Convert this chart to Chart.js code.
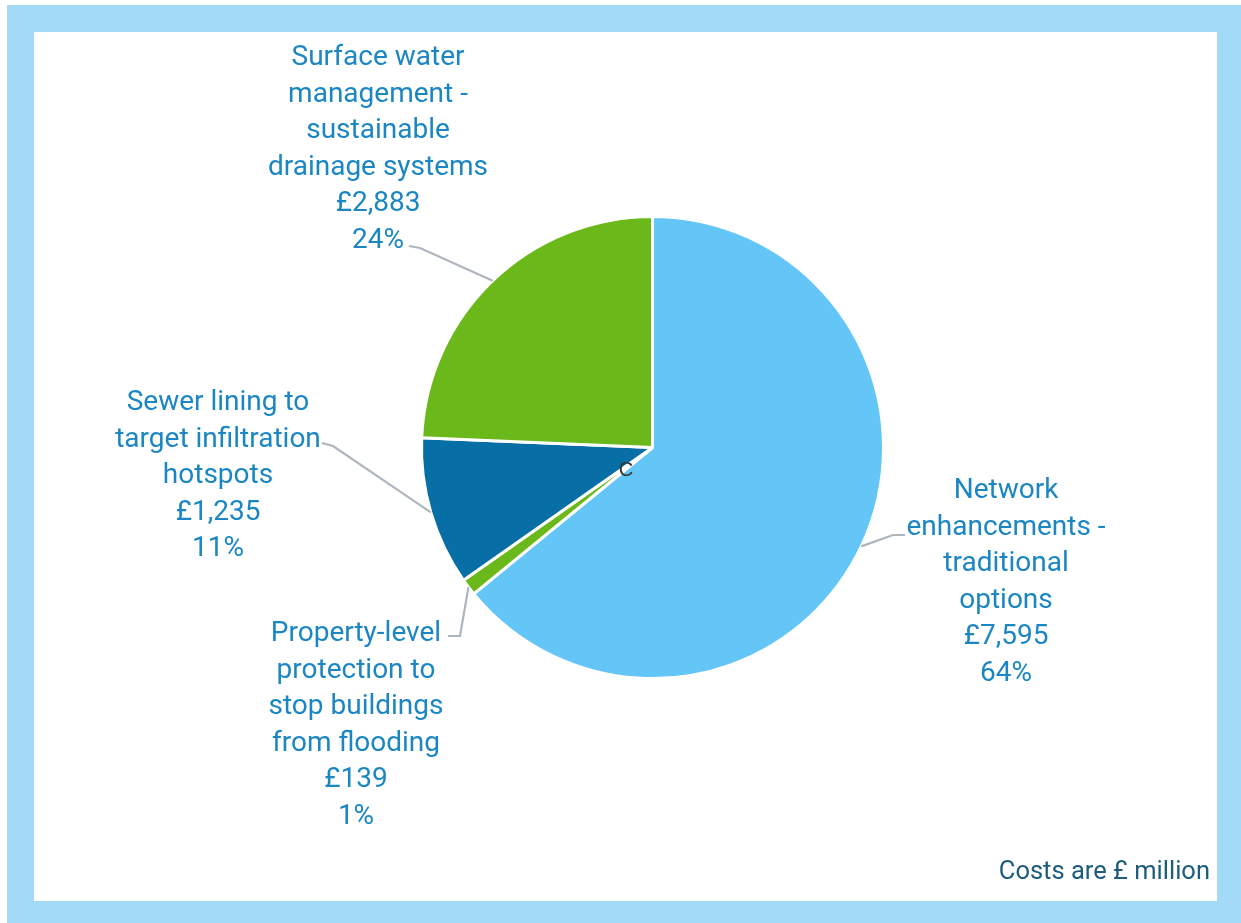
<!DOCTYPE html>
<html lang="en">
<head>
    <meta charset="UTF-8">
    <title>Costs by option</title>
    <style>
        body {
            margin: 0;
            background: #fff;
            width: 1241px;
            height: 923px;
            overflow: hidden;
        }
        .frame {
            position: absolute;
            left: 7px;
            top: 5px;
            width: 1234px;
            height: 918px;
            background: #a3daf7;
        }
        .chart-box {
            position: absolute;
            left: 34px;
            top: 32px;
            width: 1183px;
            height: 869px;
            background: #fff;
        }
    </style>
</head>
<body>
    <div class="frame"></div>
    <div class="chart-box">
        <canvas id="costChart" width="1183" height="869"></canvas>
    </div>

    <script src="https://cdn.jsdelivr.net/npm/chart.js@4/dist/chart.umd.min.js"></script>
    <script>
        // Cost per option, £ million
        const categories = [
            'Network enhancements - traditional options',
            'Property-level protection to stop buildings from flooding',
            'Sewer lining to target infiltration hotspots',
            'Surface water management - sustainable drainage systems'
        ];
        const costs = [7595, 139, 1235, 2883];
        const percents = ['64%', '1%', '11%', '24%'];
        const sliceColours = ['#64c5f7', '#6ab81a', '#086ea6', '#6ab81a'];

        // How each label is broken into lines
        const labelLines = [
            ['Network', 'enhancements -', 'traditional', 'options'],
            ['Property-level', 'protection to', 'stop buildings', 'from flooding'],
            ['Sewer lining to', 'target infiltration', 'hotspots'],
            ['Surface water', 'management -', 'sustainable', 'drainage systems']
        ];

        // label block centre (x, first line y) and leader elbow/end, canvas coords
        const labelLayout = [
            { x: 972, y: 459, elbow: [859, 503], end: [871, 503] },
            { x: 322, y: 602, elbow: [426, 604], end: [414, 604] },
            { x: 184, y: 371, elbow: [299, 414], end: [288, 411] },
            { x: 344, y: 26, elbow: [386, 216], end: [375, 214] }
        ];
        const lineHeight = 36.5;

        const pieLabels = {
            id: 'pieLabels',
            afterDatasetsDraw(chart) {
                const ctx = chart.ctx;
                const arcs = chart.getDatasetMeta(0).data;
                ctx.save();
                arcs.forEach((arc, i) => {
                    const p = arc.getProps(['x', 'y', 'startAngle', 'endAngle', 'outerRadius'], true);
                    const mid = (p.startAngle + p.endAngle) / 2;
                    const sx = p.x + Math.cos(mid) * p.outerRadius;
                    const sy = p.y + Math.sin(mid) * p.outerRadius;
                    const lay = labelLayout[i];

                    // leader line
                    ctx.strokeStyle = '#adb6bf';
                    ctx.lineWidth = 2.2;
                    ctx.beginPath();
                    ctx.moveTo(sx, sy);
                    ctx.lineTo(lay.elbow[0], lay.elbow[1]);
                    ctx.lineTo(lay.end[0], lay.end[1]);
                    ctx.stroke();

                    // text block
                    const lines = labelLines[i].concat([
                        '£' + costs[i].toLocaleString('en-GB'),
                        percents[i]
                    ]);
                    ctx.fillStyle = '#1b86c4';
                    ctx.font = '28px Roboto';
                    ctx.textAlign = 'center';
                    ctx.textBaseline = 'middle';
                    lines.forEach((t, k) => {
                        ctx.fillText(t, lay.x, lay.y + k * lineHeight);
                    });
                });

                // small marker near the centre
                ctx.fillStyle = '#333';
                ctx.font = '20px "Liberation Sans"';
                ctx.textAlign = 'center';
                ctx.textBaseline = 'middle';
                ctx.fillText('C', 592, 438);

                // footnote
                ctx.fillStyle = '#1d5c7c';
                ctx.font = '25.5px Roboto';
                ctx.textAlign = 'right';
                ctx.textBaseline = 'alphabetic';
                ctx.fillText('Costs are £ million', 1176, 847);
                ctx.restore();
            }
        };

        new Chart(document.getElementById('costChart'), {
            type: 'pie',
            data: {
                labels: categories,
                datasets: [{
                    data: costs,
                    backgroundColor: sliceColours,
                    borderColor: '#ffffff',
                    borderWidth: 3
                }]
            },
            options: {
                responsive: false,
                animation: false,
                layout: {
                    padding: { left: 386, right: 332, top: 183, bottom: 221 }
                },
                plugins: {
                    legend: { display: false },
                    tooltip: { enabled: false }
                }
            },
            plugins: [pieLabels]
        });
    </script>
</body>
</html>
